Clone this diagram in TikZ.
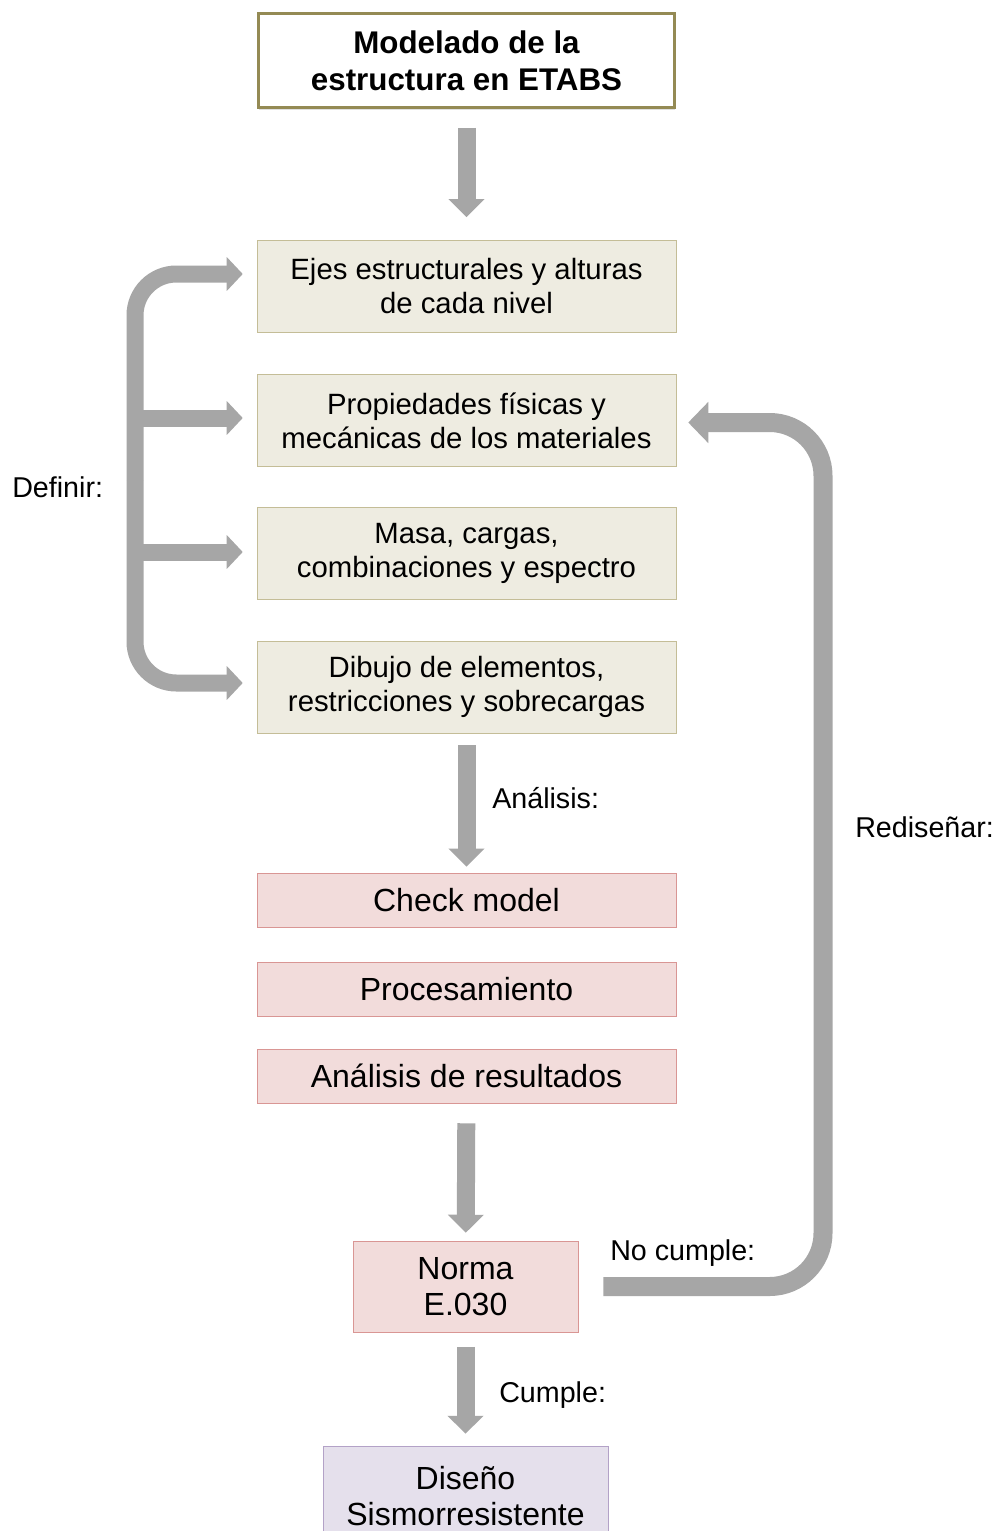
\documentclass[tikz,border=0pt]{standalone}
\usepackage{fontspec}
\setmainfont{Liberation Sans}
\usetikzlibrary{arrows.meta,shadows}
\definecolor{olivebox}{RGB}{148,138,84}
\definecolor{tanfill}{RGB}{238,236,225}
\definecolor{tanline}{RGB}{196,189,151}
\definecolor{pinkfill}{RGB}{242,220,219}
\definecolor{pinkline}{RGB}{217,150,148}
\definecolor{lilafill}{RGB}{229,224,236}
\definecolor{lilaline}{RGB}{179,162,199}
\definecolor{flecha}{RGB}{166,166,166}

\begin{document}
\begin{tikzpicture}[x=0.75pt,y=-0.75pt,
    titulo/.style={draw=olivebox,line width=2.5pt,fill=white,minimum width=312pt,minimum height=70.5pt,
      align=center,font=\fontsize{23.5}{27.75}\selectfont\bfseries,
      drop shadow={shadow xshift=0pt,shadow yshift=-1.5pt,opacity=.3,fill=black!40}},
    paso/.style={draw=tanline,fill=tanfill,minimum width=314.25pt,minimum height=69pt,
      align=center,font=\fontsize{22}{25.5}\selectfont},
    proceso/.style={draw=pinkline,fill=pinkfill,minimum width=314.25pt,minimum height=40.5pt,
      align=center,font=\fontsize{24}{27}\selectfont},
    final/.style={draw=lilaline,fill=lilafill,minimum width=213.75pt,minimum height=75pt,
      align=center,font=\fontsize{24}{26.5}\selectfont},
    etiqueta/.style={inner sep=0pt,anchor=base west,font=\fontsize{21.5}{25}\selectfont},
    bajada/.style={draw=flecha,line width=13.5pt,-{Triangle[width=26.25pt,length=13.5pt]}},
    fork/.style={draw=flecha,line width=12.75pt,-{Triangle[width=24.75pt,length=12pt]}},
    vuelta/.style={draw=flecha,line width=14.25pt,-{Triangle[width=30pt,length=15pt]}}]
  \clip (0,0) rectangle (1007,1531);
  \fill[white] (0,0) rectangle (1007,1531);

  \node[titulo] (titulo) at (466.5,60.5) {Modelado de la\\estructura en ETABS};
  \node[paso] (ejes) at (466.5,286) {Ejes estructurales y alturas\\de cada nivel};
  \node[paso] (prop) at (466.5,420.5) {Propiedades físicas y\\mecánicas de los materiales};
  \node[paso] (masa) at (466.5,553) {Masa, cargas,\\combinaciones y espectro};
  \node[paso] (dibujo) at (466.5,687) {Dibujo de elementos,\\restricciones y sobrecargas};
  \node[proceso] (check) at (466.5,900.5) {Check model};
  \node[proceso] (proc) at (466.5,989) {Procesamiento};
  \node[proceso] (result) at (466.5,1076) {Análisis de resultados};
  \node[proceso,minimum width=168.75pt,minimum height=68.25pt] (norma) at (465.5,1286.5) {Norma\\E.030};
  \node[final] (diseno) at (465.5,1496) {Diseño\\Sismorresistente};

  \node[etiqueta] (definir) at (12,497) {Definir:};
  \node[etiqueta] (analisis) at (492,808) {Análisis:};
  \node[etiqueta] (nocumple) at (610,1260) {No cumple:};
  \node[etiqueta] (cumple) at (499,1402) {Cumple:};
  \node[etiqueta] (redisenar) at (855,837) {Rediseñar:};

  \coordinate (eje) at (135,480);
  \coordinate (e2) at (135,418);
  \coordinate (e3) at (135,552);
  \coordinate (giro) at (823,850);

  \draw[bajada,shorten <=14pt,shorten >=17pt] (titulo) -- (ejes);
  \draw[bajada,shorten <=9pt,shorten >=5pt] (dibujo) -- (check);
  \draw[bajada,shorten <=15pt,shorten >=6pt] (result) -- (norma);
  \draw[bajada,shorten <=11pt,shorten >=9pt] (norma) -- (diseno);

  \draw[fork,rounded corners=31pt,shorten >=10.5pt] (eje) |- ([yshift=9pt]ejes.west);
  \draw[fork,rounded corners=31pt,shorten >=10.5pt] (eje) |- ([yshift=3pt]dibujo.west);
  \draw[fork,shorten >=10.5pt] (e2) -- (e2 -| prop.west);
  \draw[fork,shorten >=10.5pt] (e3) -- (e3 -| masa.west);

  \draw[vuelta,rounded corners=40pt,shorten <=18.75pt,shorten >=9pt]
    (norma.east) -| (giro) |- ([yshift=-1.5pt]prop.east);
\end{tikzpicture}
\end{document}
